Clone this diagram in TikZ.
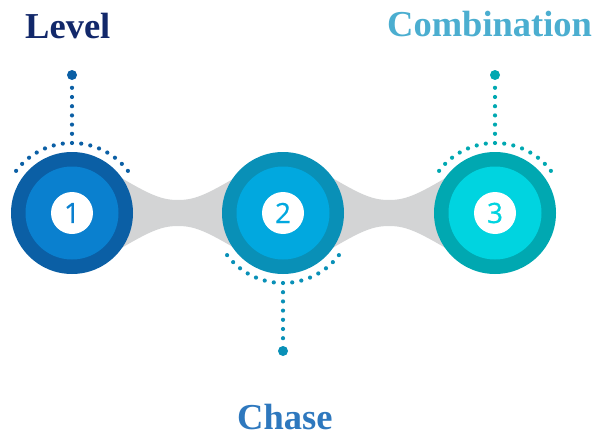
\documentclass[tikz,border=0pt]{standalone}
\usepackage{fontspec}
\usetikzlibrary{calc}
\setmainfont{Liberation Serif}
\newfontfamily\numfont[FakeBold=0.6]{Open Sans}
\definecolor{cAout}{HTML}{0B5FA5}
\definecolor{cAin}{HTML}{0A80CF}
\definecolor{cBout}{HTML}{0990B7}
\definecolor{cBin}{HTML}{01A8DF}
\definecolor{cCout}{HTML}{00A8B1}
\definecolor{cCin}{HTML}{00D4E0}
\definecolor{band}{HTML}{D3D4D5}
\definecolor{tLevel}{HTML}{12286A}
\definecolor{tComb}{HTML}{4BAED0}
\definecolor{tChase}{HTML}{2E78BE}
\tikzset{
  outerc/.style={circle, inner sep=0pt, minimum size=122pt},
  innerc/.style={circle, inner sep=0pt, minimum size=93pt},
  numc/.style={circle, inner sep=0pt, minimum size=42pt, fill=white, font=\numfont\fontsize{28}{28}\selectfont},
  title/.style={inner sep=0pt, font=\bfseries\fontsize{36.5}{36.5}\selectfont},
  bigdot/.style={circle, inner sep=0pt, minimum size=10pt},
}
\newcommand{\bandshape}[1]{%
  \fill[band] (#1+36,170) .. controls (#1+76,194) and (#1+88,200) .. (#1+106,200)
     .. controls (#1+124,200) and (#1+136,194) .. (#1+176,170)
     -- (#1+176,256)
     .. controls (#1+136,232) and (#1+124,226) .. (#1+106,226)
     .. controls (#1+88,226) and (#1+76,232) .. (#1+36,256) -- cycle;}
\begin{document}
\begin{tikzpicture}[x=1pt,y=-1pt]
\useasboundingbox (0,0) rectangle (602,436);
% connecting bands
\bandshape{72}
\bandshape{283}
% circles
\node[outerc, fill=cAout] (c1) at (72,213) {};
\node[innerc, fill=cAin] (i1) at (c1) {};
\node[numc, text=cAin] (n1) at (c1) {1};
\node[outerc, fill=cBout] (c2) at (283,213) {};
\node[innerc, fill=cBin] (i2) at (c2) {};
\node[numc, text=cBin] (n2) at (c2) {2};
\node[outerc, fill=cCout] (c3) at (495,213) {};
\node[innerc, fill=cCin] (i3) at (c3) {};
\node[numc, text=cCin] (n3) at (c3) {3};
% dotted arcs and leaders
\foreach \k in {-7,...,7} {
  \fill[cAout] ($(c1)+({90+7.57*\k}:70 and -70)$) circle (2.1);
  \fill[cBout] ($(c2)+({-90+7.57*\k}:70 and -70)$) circle (2.1);
  \fill[cCout] ($(c3)+({90+7.57*\k}:70 and -70)$) circle (2.1);
}
\foreach \k in {1,...,6} {
  \fill[cAout] (72,143-9.2*\k) circle (2.1);
  \fill[cBout] (283,283+9.2*\k) circle (2.1);
  \fill[cCout] (495,143-9.2*\k) circle (2.1);
}
\node[bigdot, fill=cAout] (d1) at (72,75) {};
\node[bigdot, fill=cBout] (d2) at (283,351) {};
\node[bigdot, fill=cCout] (d3) at (495,75) {};
% titles
\node[title, text=tLevel, anchor=base west] (t1) at (25,38) {Level};
\node[title, text=tComb, anchor=base west] (t3) at (387,37) {Combination};
\node[title, text=tChase, anchor=base west] (t2) at (237,429) {Chase};
\end{tikzpicture}
\end{document}
